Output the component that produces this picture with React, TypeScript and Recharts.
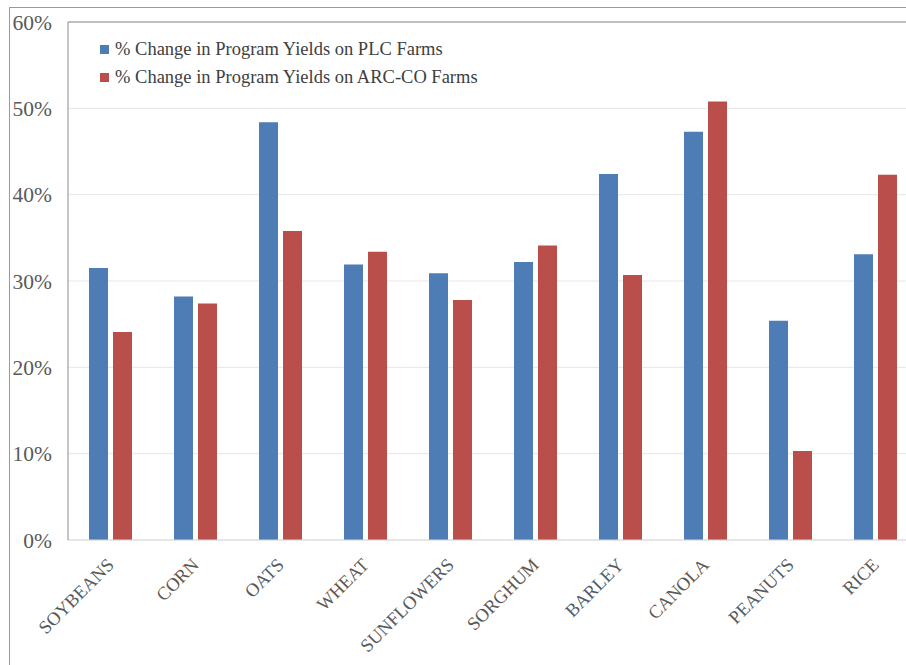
import React from 'react';
import { BarChart, Bar, XAxis, YAxis, CartesianGrid, Legend, ReferenceLine } from 'recharts';

// Crop categories along the x axis
const crops = ['SOYBEANS', 'CORN', 'OATS', 'WHEAT', 'SUNFLOWERS', 'SORGHUM', 'BARLEY', 'CANOLA', 'PEANUTS', 'RICE'];
// % change in program yields (percent)
const plcChange = [31.5, 28.2, 48.4, 31.9, 30.9, 32.2, 42.4, 47.3, 25.4, 33.1];
const arcCoChange = [24.1, 27.4, 35.8, 33.4, 27.8, 34.1, 30.7, 50.8, 10.3, 42.3];
// Y axis ticks (percent)
const yTicks = [0, 10, 20, 30, 40, 50, 60];
const seriesNames = [
  '% Change in Program Yields on PLC Farms',
  '% Change in Program Yields on ARC-CO Farms',
];
const seriesColors = ['#4E7CB4', '#BA4E4B'];

const data = crops.map((crop, i) => ({
  crop,
  plc: plcChange[i],
  arcco: arcCoChange[i],
}));

const FONT = '"Liberation Serif", "Times New Roman", serif';

const CropTick = (props: any) => {
  const { x, y, payload } = props;
  return (
    <text
      transform={`translate(${x + 4.5},${y + 26}) rotate(-45)`}
      textAnchor="end"
      fill="#595959"
      fontSize={18.5}
      fontFamily={FONT}
    >
      {payload.value}
    </text>
  );
};

const LegendBox = () => (
  <div style={{ fontFamily: FONT, fontSize: 18.5, color: '#404040' }}>
    {seriesNames.map((name, i) => (
      <div key={name} style={{ display: 'flex', alignItems: 'center', height: 28, whiteSpace: 'nowrap' }}>
        <span style={{ width: 9, height: 9, background: seriesColors[i], marginRight: 6, display: 'inline-block' }} />
        <span>{name}</span>
      </div>
    ))}
  </div>
);

export default function App() {
  return (
    <div
      style={{
        position: 'absolute',
        left: 0,
        top: 0,
        width: 906,
        height: 665,
        overflow: 'hidden',
        background: '#fff',
      }}
    >
      <div
        style={{
          position: 'absolute',
          left: 9,
          top: 7,
          right: 0,
          bottom: 0,
          borderTop: '1px solid #9a9a9a',
          borderLeft: '1px solid #9a9a9a',
        }}
      />
      <div style={{ position: 'absolute', left: 0, top: 0 }}>
        <BarChart
          width={920}
          height={665}
          data={data}
          margin={{ top: 22, right: 2, left: 0, bottom: 0 }}
          barSize={19}
          barGap={5}
        >
          <CartesianGrid vertical={false} stroke="#E6E6E6" />
          <XAxis
            dataKey="crop"
            height={125}
            axisLine={{ stroke: '#D9D9D9' }}
            tickLine={false}
            tickSize={0}
            tickMargin={0}
            interval={0}
            tick={<CropTick />}
          />
          <YAxis
            width={68}
            domain={[0, 60]}
            ticks={yTicks}
            tickFormatter={(v: number) => `${v}%`}
            axisLine={{ stroke: '#8C8C8C' }}
            tickLine={false}
            tickSize={0}
            tickMargin={16}
            tick={{ fill: '#595959', fontSize: 21.5, fontFamily: FONT }}
          />
          <ReferenceLine y={60} stroke="#8C8C8C" />
          <Legend
            layout="vertical"
            verticalAlign="middle"
            align="center"
            content={<LegendBox />}
            wrapperStyle={{ left: 100, top: 35, width: 'auto' }}
          />
          <Bar dataKey="plc" name={seriesNames[0]} fill={seriesColors[0]} isAnimationActive={false} />
          <Bar dataKey="arcco" name={seriesNames[1]} fill={seriesColors[1]} isAnimationActive={false} />
        </BarChart>
      </div>
    </div>
  );
}
